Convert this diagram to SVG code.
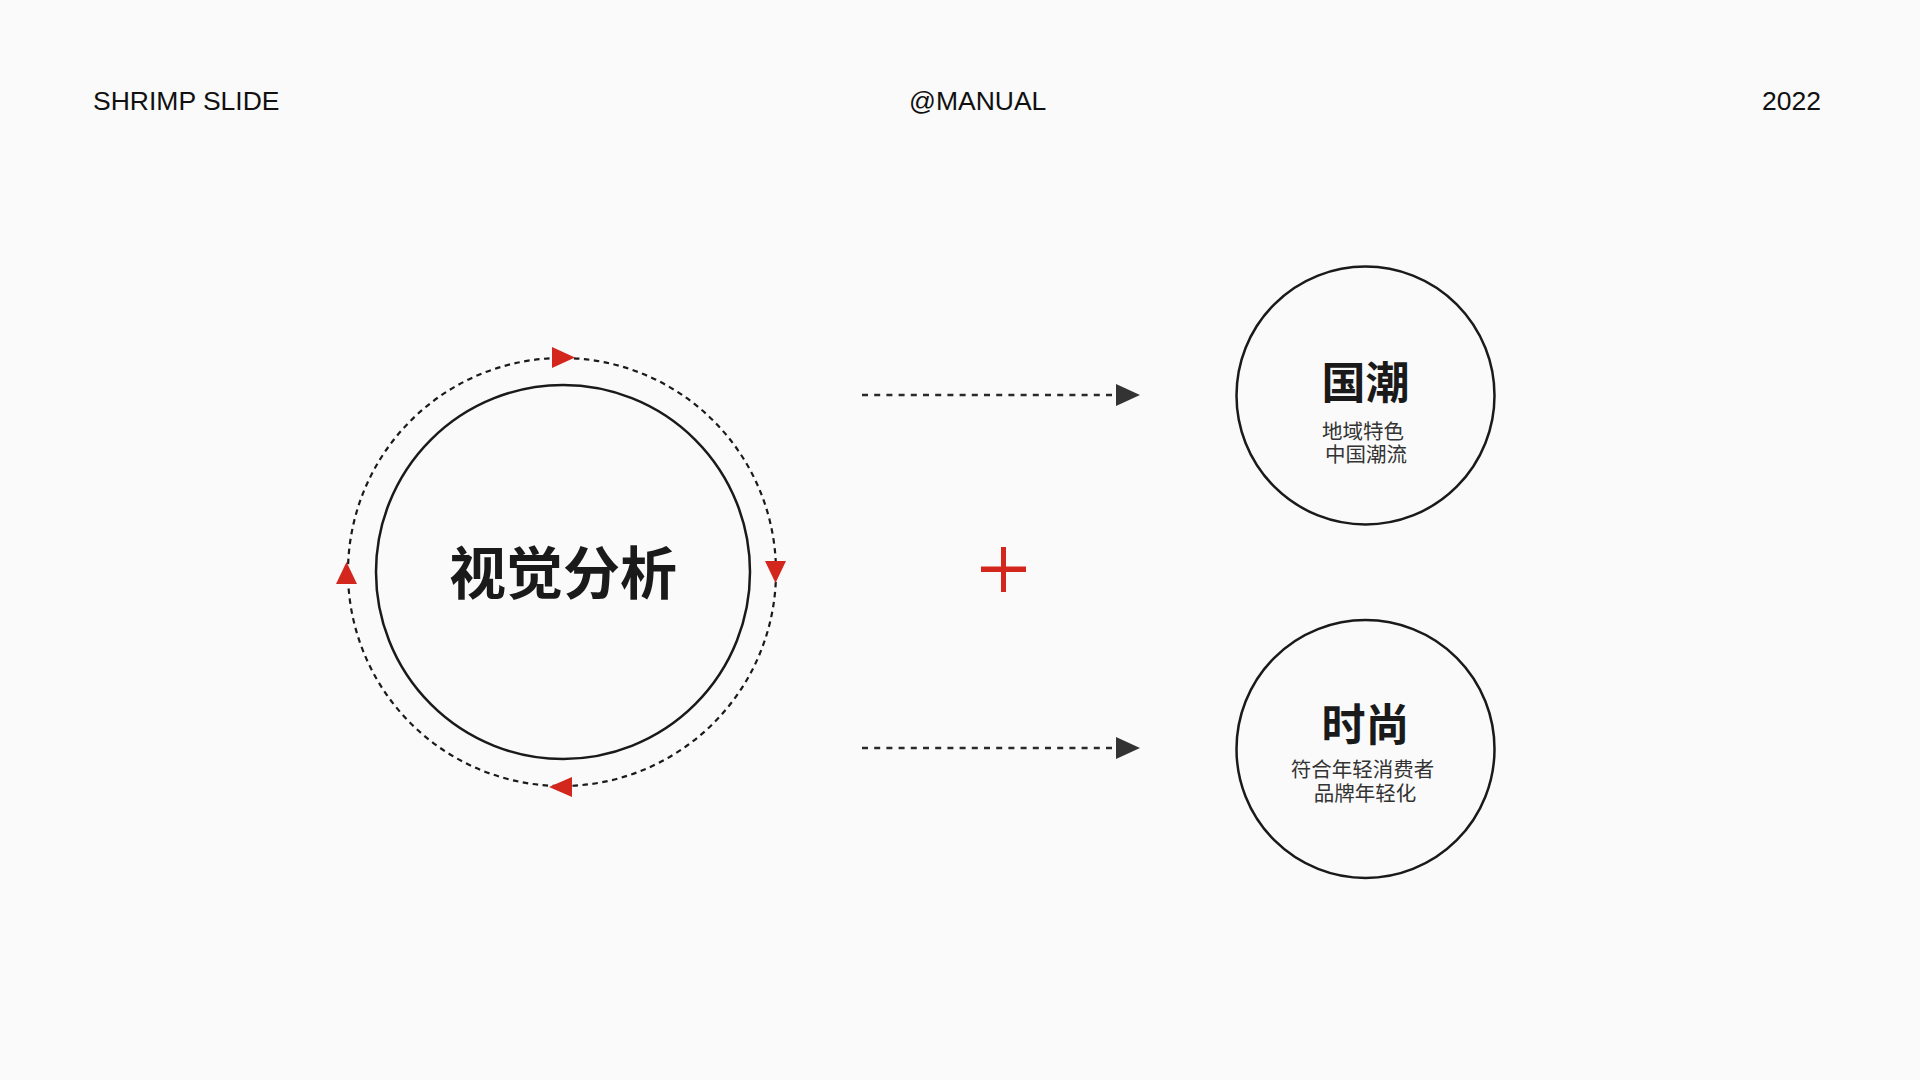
<svg xmlns="http://www.w3.org/2000/svg" width="1920" height="1080" viewBox="0 0 1920 1080">
  <defs>
    <style>
      .hdr { font-family: "Liberation Sans", Arial, sans-serif; font-size: 26.5px; fill: #111111; }
      .ring { fill: none; stroke: #1a1a1a; stroke-width: 2.5; }
      .orbit { fill: none; stroke: #1a1a1a; stroke-width: 2.2; stroke-dasharray: 5.5 4.5; }
      .red { fill: #d3261d; }
      .dash { fill: none; stroke: #2a2a2a; stroke-width: 2.4; stroke-dasharray: 6 6.2; }
      .head { fill: #333333; }
      .title { font-family: "Noto Sans CJK SC", "Noto Sans", sans-serif; font-weight: 700; fill: #1a1a1a; text-anchor: middle; }
      .sub { font-family: "Noto Sans CJK SC", "Noto Sans", sans-serif; font-size: 20.5px; fill: #333333; text-anchor: middle; }
    </style>
  </defs>
  <rect width="1920" height="1080" fill="#fafafa"/>

  <g id="header">
    <text class="hdr" x="93" y="110">SHRIMP SLIDE</text>
    <text class="hdr" x="909" y="110">@MANUAL</text>
    <text class="hdr" x="1821" y="110" text-anchor="end">2022</text>
  </g>

  <g id="node-main">
    <circle class="orbit" cx="562" cy="572" r="214"/>
    <circle class="ring" cx="563" cy="572" r="187"/>
    <polygon class="red" points="552,347 552,368 575,357.5"/>
    <polygon class="red" points="765,561 786,561 775.5,583"/>
    <polygon class="red" points="572,777 572,797 549,787"/>
    <polygon class="red" points="336,584 357,584 346.5,562"/>
    <text class="title" x="563" y="569" font-size="57" dominant-baseline="central">视觉分析</text>
  </g>

  <g id="plus">
    <rect class="red" x="1001" y="547" width="5" height="45"/>
    <rect class="red" x="981" y="566.5" width="45" height="5.5"/>
  </g>

  <g id="connectors">
    <line class="dash" x1="862" y1="395" x2="1116" y2="395"/>
    <polygon class="head" points="1116,384 1116,406 1140,395"/>
    <line class="dash" x1="862" y1="748" x2="1116" y2="748"/>
    <polygon class="head" points="1116,737 1116,759 1140,748"/>
  </g>

  <g id="node-guochao">
    <circle class="ring" cx="1365.5" cy="395.5" r="129"/>
    <text class="title" x="1365.5" y="380" font-size="44" dominant-baseline="central">国潮</text>
    <text class="sub" x="1363" y="430" dominant-baseline="central">地域特色</text>
    <text class="sub" x="1366" y="453" dominant-baseline="central">中国潮流</text>
  </g>

  <g id="node-shishang">
    <circle class="ring" cx="1365.5" cy="749" r="129"/>
    <text class="title" x="1365.5" y="722" font-size="44" dominant-baseline="central">时尚</text>
    <text class="sub" x="1362.5" y="768" dominant-baseline="central">符合年轻消费者</text>
    <text class="sub" x="1365" y="792" dominant-baseline="central">品牌年轻化</text>
  </g>
</svg>
